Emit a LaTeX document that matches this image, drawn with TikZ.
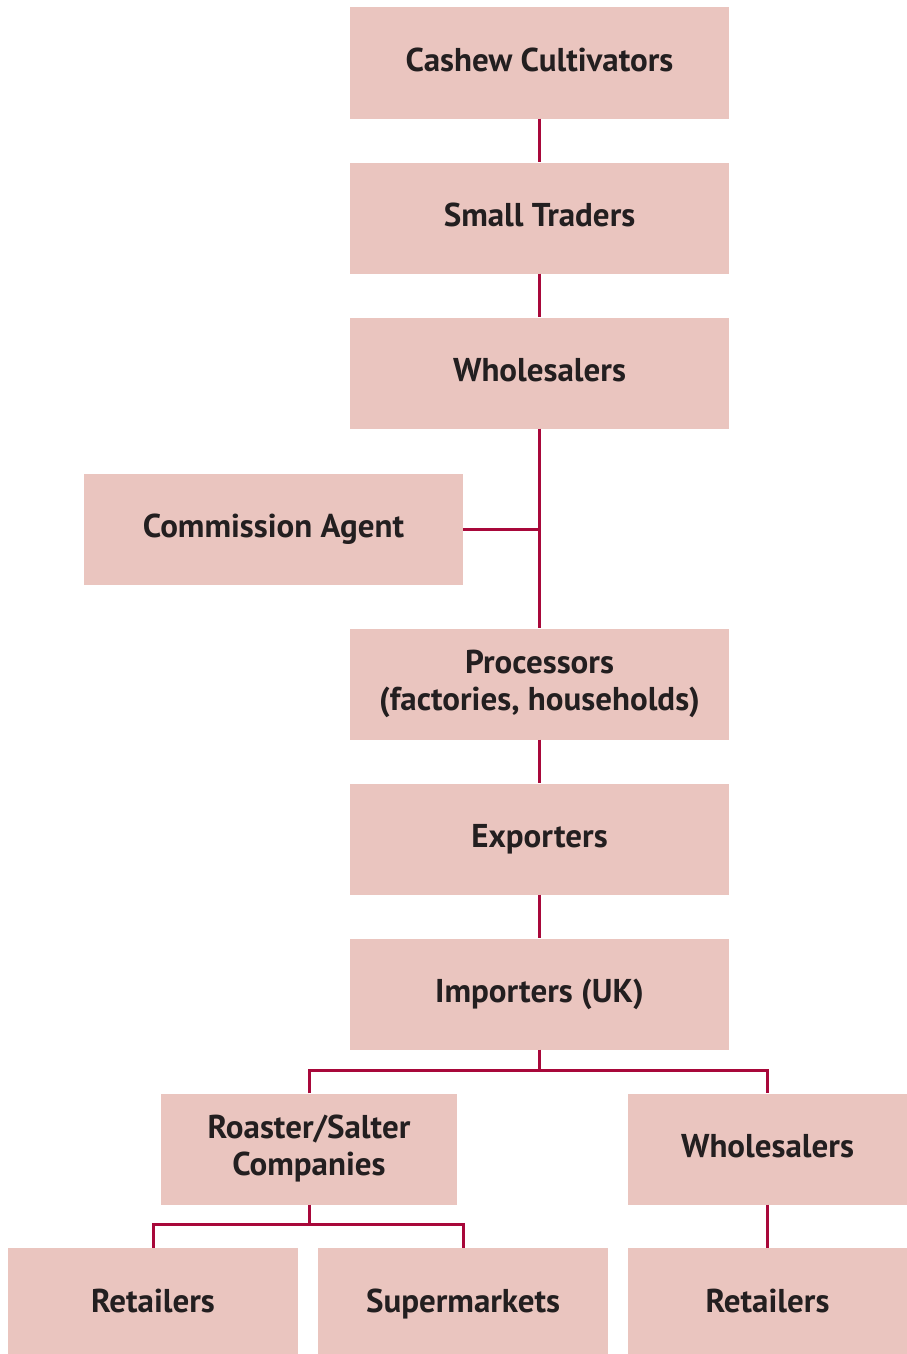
\documentclass[tikz,border=0pt]{standalone}
\usepackage{fontspec}
\setmainfont{PT Sans}
\definecolor{boxfill}{HTML}{EAC5BF}
\definecolor{linkc}{HTML}{A8083A}
\definecolor{txt}{HTML}{231F20}
\begin{document}
\begin{tikzpicture}[x=1pt,y=-1pt,
  box/.style={fill=boxfill, draw=none, inner sep=0pt, align=center,
    text=txt, font=\bfseries\fontsize{33}{37}\selectfont,
    minimum height=111pt},
  one/.style={text height=23pt, text depth=7pt},
  low/.style={text height=23pt, text depth=1pt},
  mainbox/.style={box, minimum width=379pt},
  link/.style={draw=linkc, line width=3pt}]
\useasboundingbox (0,0) rectangle (907,1354);
\node[mainbox, one] (cc) at (539.5,63) {Cashew Cultivators};
\node[mainbox, one] (st) at (539.5,218) {Small Traders};
\node[mainbox, one] (wh) at (539.5,373) {Wholesalers};
\node[mainbox, one] (ca) at (273.5,529) {Commission Agent};
\node[mainbox] (pr) at (539.5,684) {Processors\\(factories, households)};
\node[mainbox, one] (ex) at (539.5,839) {Exporters};
\node[mainbox, one] (im) at (539.5,994) {Importers (UK)};
\node[box, minimum width=296pt] (rs) at (309,1149) {Roaster/Salter\\Companies};
\node[box, one, minimum width=279pt] (wr) at (767.5,1149) {Wholesalers};
\node[box, low, minimum width=290pt, minimum height=106pt] (r1) at (153,1301) {Retailers};
\node[box, low, minimum width=290pt, minimum height=106pt] (sm) at (463,1301) {Supermarkets};
\node[box, low, minimum width=279pt, minimum height=106pt] (r2) at (767.5,1301) {Retailers};
\coordinate (j1) at (539.5,1070);
\coordinate (j2) at (309,1224);
\draw[link] (cc) -- (st);
\draw[link] (st) -- (wh);
\draw[link] (wh) -- (pr);
\draw[link] (ca.east) -- (ca.east -| wh.south);
\draw[link] (pr) -- (ex);
\draw[link] (ex) -- (im);
\draw[link] (im.south) -- (j1);
\draw[link] (rs.north) |- (j1) -| (wr.north);
\draw[link] (rs.south) -- (j2);
\draw[link] (r1.north) |- (j2) -| (sm.north);
\draw[link] (wr) -- (r2);
\end{tikzpicture}
\end{document}
